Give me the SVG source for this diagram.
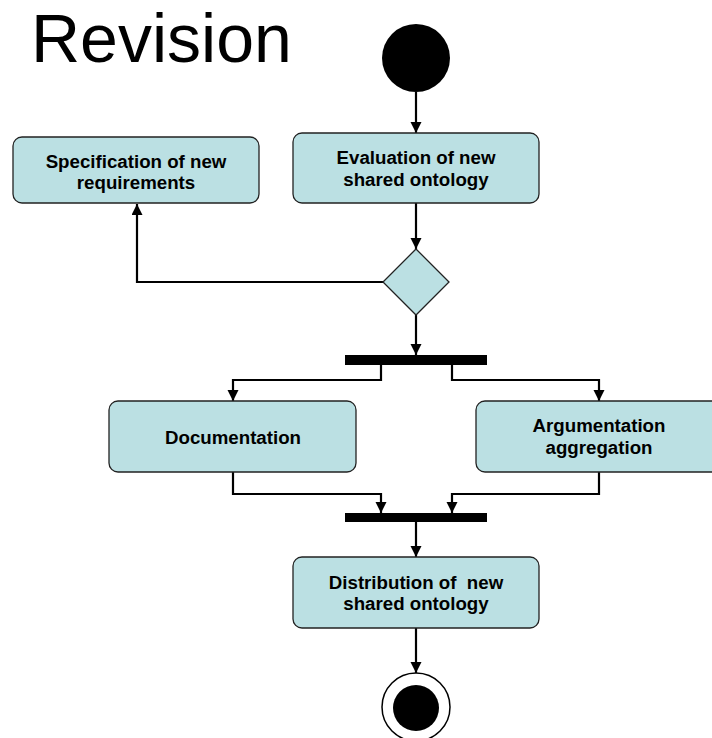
<svg xmlns="http://www.w3.org/2000/svg" width="712" height="738" viewBox="0 0 712 738">
<style>
.box{fill:#BBE0E3;stroke:#222;stroke-width:1.3}
.lbl{font-family:"Liberation Sans",Arial,sans-serif;font-weight:bold;font-size:18.7px;fill:#000;text-anchor:middle}
.conn{fill:none;stroke:#000;stroke-width:2.2;marker-end:url(#ah)}
.bar{fill:#000}
</style>
<defs>
<marker id="ah" markerWidth="11" markerHeight="12" refX="11" refY="5.5" orient="auto" markerUnits="userSpaceOnUse">
<path d="M0,0 L11,5.5 L0,11 Z" fill="#000"/>
</marker>
</defs>
<rect width="712" height="738" fill="#fff"/>
<text x="31" y="62" font-family="'Liberation Sans',Arial,sans-serif" font-size="68" fill="#000">Revision</text>

<g id="connectors">
<path class="conn" d="M416,92 V133"/>
<path class="conn" d="M416,203 V249"/>
<path class="conn" d="M383,282 H137 V204"/>
<path class="conn" d="M416,315 V355"/>
<path class="conn" d="M381,365 V380 H233 V401"/>
<path class="conn" d="M452,365 V380 H599 V401"/>
<path class="conn" d="M233,472 V494 H381 V513"/>
<path class="conn" d="M599,472 V494 H452 V513"/>
<path class="conn" d="M416,522 V557"/>
<path class="conn" d="M416,628 V673"/>
</g>

<g id="start"><circle cx="416" cy="58" r="34" fill="#000"/></g>

<g id="spec">
<rect class="box" x="13" y="137" width="246" height="66" rx="9"/>
<text class="lbl" x="136" y="168">Specification of new</text>
<text class="lbl" x="136" y="189">requirements</text>
</g>

<g id="eval">
<rect class="box" x="293" y="133" width="246" height="70" rx="9"/>
<text class="lbl" x="416" y="164">Evaluation of new</text>
<text class="lbl" x="416" y="186">shared ontology</text>
</g>

<g id="decision">
<path class="box" d="M416,249 L449,282 L416,315 L383,282 Z"/>
</g>

<g id="fork"><rect class="bar" x="345" y="355" width="142" height="10"/></g>

<g id="doc">
<rect class="box" x="109" y="401" width="247" height="71" rx="9"/>
<text class="lbl" x="233" y="444">Documentation</text>
</g>

<g id="arg">
<rect class="box" x="476" y="401" width="246" height="71" rx="9"/>
<text class="lbl" x="599" y="432">Argumentation</text>
<text class="lbl" x="599" y="454">aggregation</text>
</g>

<g id="join"><rect class="bar" x="345" y="513" width="142" height="9"/></g>

<g id="dist">
<rect class="box" x="293" y="557" width="246" height="71" rx="9"/>
<text class="lbl" x="416" y="589" xml:space="preserve">Distribution of  new</text>
<text class="lbl" x="416" y="610">shared ontology</text>
</g>

<g id="end">
<circle cx="416" cy="707" r="34" fill="#fff" stroke="#000" stroke-width="1.5"/>
<circle cx="416" cy="708" r="23" fill="#000"/>
</g>
</svg>
